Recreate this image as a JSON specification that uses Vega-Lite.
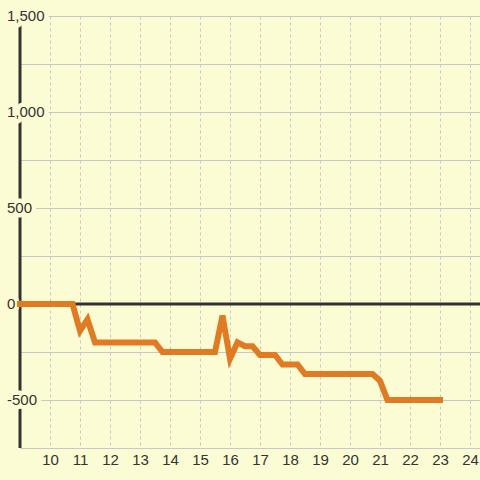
{
  "$schema": "https://vega.github.io/schema/vega-lite/v6.json",
  "width": 460,
  "height": 432,
  "autosize": {"type": "none"},
  "padding": {"left": 20, "top": 16, "right": 0, "bottom": 32},
  "background": "#fcfcd4",
  "config": {
    "view": {"stroke": null, "fill": "#fcfcd4"},
    "font": "Liberation Sans"
  },
  "datasets": {
    "series": [
      {"x": 9, "y": 0},
      {"x": 10.75, "y": 0},
      {"x": 11, "y": -140},
      {"x": 11.25, "y": -80},
      {"x": 11.5, "y": -200},
      {"x": 13.5, "y": -200},
      {"x": 13.75, "y": -250},
      {"x": 15.5, "y": -250},
      {"x": 15.75, "y": -60},
      {"x": 16, "y": -285},
      {"x": 16.25, "y": -200},
      {"x": 16.5, "y": -220},
      {"x": 16.75, "y": -220},
      {"x": 17, "y": -265},
      {"x": 17.5, "y": -265},
      {"x": 17.75, "y": -315},
      {"x": 18.25, "y": -315},
      {"x": 18.5, "y": -365},
      {"x": 20.75, "y": -365},
      {"x": 21, "y": -400},
      {"x": 21.25, "y": -500},
      {"x": 23, "y": -500}
    ],
    "labels": [
      {"v": -500, "t": "-500"},
      {"v": 0, "t": "0"},
      {"v": 500, "t": "500"},
      {"v": 1000, "t": "1,000"},
      {"v": 1500, "t": "1,500"}
    ],
    "one": [{"k": 1}]
  },
  "encoding": {
    "x": {"type": "quantitative", "title": null, "scale": {"domain": [9, 24.3333], "nice": false, "zero": false},
      "axis": {"values": [10, 11, 12, 13, 14, 15, 16, 17, 18, 19, 20, 21, 22, 23, 24], "domain": false, "ticks": false, "grid": true, "gridDash": [3, 3], "gridColor": "#c8c8c8", "gridWidth": 1, "labelFontSize": 15, "labelColor": "#333333", "labelPadding": 4, "labelFont": "Liberation Sans", "labelOverlap": false, "labelFlush": false, "labelBound": false, "title": null}},
    "y": {"type": "quantitative", "title": null, "scale": {"domain": [-750, 1500], "nice": false, "zero": false},
      "axis": {"values": [-750, -500, -250, 0, 250, 500, 750, 1000, 1250, 1500], "domain": false, "ticks": false, "labels": false, "grid": true, "gridColor": "#c8c8c8", "gridWidth": 1, "title": null}}
  },
  "layer": [
    {
      "data": {"name": "one"},
      "mark": {"type": "rule", "color": "#333333", "strokeWidth": 3},
      "encoding": {
        "x": {"datum": 9},
        "x2": {"datum": 24.3333},
        "y": {"datum": 0}
      }
    },
    {
      "data": {"name": "one"},
      "mark": {"type": "rule", "color": "#333333", "strokeWidth": 3},
      "encoding": {
        "x": {"datum": 9},
        "y": {"datum": -750},
        "y2": {"datum": 1500}
      }
    },
    {
      "data": {"name": "labels"},
      "mark": {"type": "text", "align": "left", "baseline": "middle", "dx": -13, "fontSize": 15, "font": "Liberation Sans", "fill": "#fcfcd4", "stroke": "#fcfcd4", "strokeWidth": 9, "strokeJoin": "round"},
      "encoding": {
        "x": {"datum": 9},
        "y": {"field": "v"},
        "text": {"field": "t"}
      }
    },
    {
      "data": {"name": "labels"},
      "mark": {"type": "text", "align": "left", "baseline": "middle", "dx": -13, "fontSize": 15, "font": "Liberation Sans", "fill": "#333333"},
      "encoding": {
        "x": {"datum": 9},
        "y": {"field": "v"},
        "text": {"field": "t"}
      }
    },
    {
      "data": {"name": "series"},
      "mark": {"type": "line", "color": "#e07b24", "strokeWidth": 6, "strokeCap": "square", "strokeJoin": "miter"},
      "encoding": {
        "x": {"field": "x"},
        "y": {"field": "y"}
      }
    }
  ]
}
